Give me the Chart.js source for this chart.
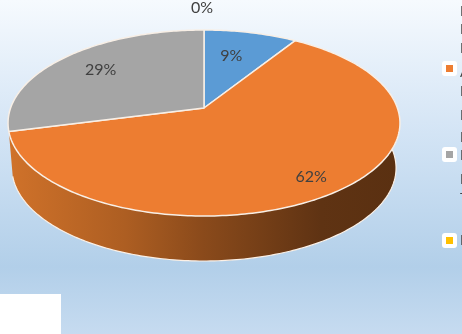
<!DOCTYPE html>
<html>
<head>
<meta charset="utf-8">
<style>
  html, body { margin: 0; padding: 0; background: #fff; overflow: hidden; }
  canvas { display: block; }
</style>
<script src="https://cdn.jsdelivr.net/npm/chart.js@4/dist/chart.umd.min.js"></script>
</head>
<body>
<canvas id="pieChart" width="462" height="334"></canvas>
<script>
const categories = ["A", "B", "C", "D"];
const values = [9, 62, 29, 0];
const sliceColors = ["#5b9bd5", "#ed7d31", "#a5a5a5", "#ffc000"];
// legend text is cut off by the picture edge, only the first letters show
const legendScraps = ["I", "I", "I", "A", "I", "I", "I", "I", "I", "T", "I"];

// tilted disc: the pie is seen in perspective so its centre is not the ellipse centre
const APEX_X = 204, APEX_Y = 108;
const SCALE_X = 193.4, SCALE_Y = 90.6, TILT = -0.1613;
const DEPTH = 45;

function project(angle, r) {
  const u = Math.cos(angle) * r, v = Math.sin(angle) * r;
  const w = 1 + TILT * v;
  return [APEX_X + SCALE_X * u / w, APEX_Y + SCALE_Y * v / w];
}

function traceRim(ctx, from, to, dropped) {
  const steps = Math.max(2, Math.ceil(Math.abs(to - from) * 60));
  for (let i = 0; i <= steps; i++) {
    const p = project(from + (to - from) * i / steps, 1);
    if (dropped) {
      ctx.lineTo(APEX_X + (p[0] - APEX_X) * 0.98, p[1] + DEPTH);
    } else {
      ctx.lineTo(p[0], p[1]);
    }
  }
}

const backdrop = {
  id: "backdrop",
  beforeDraw(chart) {
    const ctx = chart.ctx;
    const g = ctx.createLinearGradient(0, 0, 0, 334);
    g.addColorStop(0, "#f6fafe");
    g.addColorStop(0.4, "#d3e4f5");
    g.addColorStop(0.8, "#b2cfe9");
    g.addColorStop(1, "#c6dbf0");
    ctx.fillStyle = g;
    ctx.fillRect(0, 0, 462, 334);
    ctx.fillStyle = "#ffffff";
    ctx.fillRect(0, 294, 61, 40);
  }
};

const tiltedPie = {
  id: "tiltedPie",
  beforeDatasetsDraw(chart) {
    const ctx = chart.ctx;
    const arcs = chart.getDatasetMeta(0).data;
    const colors = chart.data.datasets[0].backgroundColor;

    // side wall, only the big orange slice faces the viewer
    const wall = ctx.createLinearGradient(8, 0, 399, 0);
    wall.addColorStop(0, "#d0722a");
    wall.addColorStop(0.3, "#ad5e22");
    wall.addColorStop(0.5, "#8a4a1b");
    wall.addColorStop(0.8, "#5f3313");
    wall.addColorStop(1, "#5a3011");
    const big = arcs[1];
    ctx.beginPath();
    traceRim(ctx, big.startAngle, big.endAngle, false);
    traceRim(ctx, big.endAngle, big.startAngle, true);
    ctx.closePath();
    ctx.fillStyle = wall;
    ctx.fill();
    ctx.beginPath();
    traceRim(ctx, big.startAngle, big.endAngle, true);
    ctx.strokeStyle = "#fbf0e6";
    ctx.lineWidth = 1.2;
    ctx.stroke();

    // top face
    arcs.forEach((arc, i) => {
      if (arc.endAngle - arc.startAngle <= 0) return;
      ctx.beginPath();
      ctx.moveTo(APEX_X, APEX_Y);
      traceRim(ctx, arc.startAngle, arc.endAngle, false);
      ctx.closePath();
      ctx.fillStyle = colors[i];
      ctx.fill();
      ctx.strokeStyle = "#f8efe6";
      ctx.lineWidth = 1.5;
      ctx.lineJoin = "round";
      ctx.stroke();
    });

    // percent labels: radius along the mid angle, then a small sideways nudge
    const labelRadius = [0.66, 0.84, 0.74, 1.34];
    const labelNudge = [-5, 0, 2, -2];
    ctx.font = "16px Lato, sans-serif";
    ctx.fillStyle = "#404040";
    ctx.textAlign = "center";
    ctx.textBaseline = "middle";
    arcs.forEach((arc, i) => {
      const mid = (arc.startAngle + arc.endAngle) / 2;
      const p = project(mid, labelRadius[i]);
      ctx.fillText(values[i] + "%", p[0] + labelNudge[i], p[1]);
    });

    // legend, mostly outside the picture
    [[1, 68], [2, 154], [3, 240]].forEach(([idx, y]) => {
      ctx.fillStyle = "#ffffff";
      ctx.beginPath();
      ctx.roundRect(442, y - 7, 15, 15, 3);
      ctx.fill();
      ctx.fillStyle = colors[idx];
      ctx.fillRect(446, y - 3, 7, 7);
    });
    const scrapY = [11, 29, 48, 72, 91, 115, 137, 155, 179, 198, 240];
    ctx.font = "14px Lato, sans-serif";
    ctx.fillStyle = "#404040";
    ctx.textAlign = "left";
    legendScraps.forEach((txt, i) => ctx.fillText(txt, 460, scrapY[i]));
    return false;
  }
};

new Chart(document.getElementById("pieChart"), {
  type: "pie",
  data: {
    labels: categories,
    datasets: [{ data: values, backgroundColor: sliceColors, borderWidth: 0 }]
  },
  options: {
    responsive: false,
    animation: false,
    plugins: {
      legend: { display: false },
      tooltip: { enabled: false }
    }
  },
  plugins: [backdrop, tiltedPie]
});
</script>
</body>
</html>
